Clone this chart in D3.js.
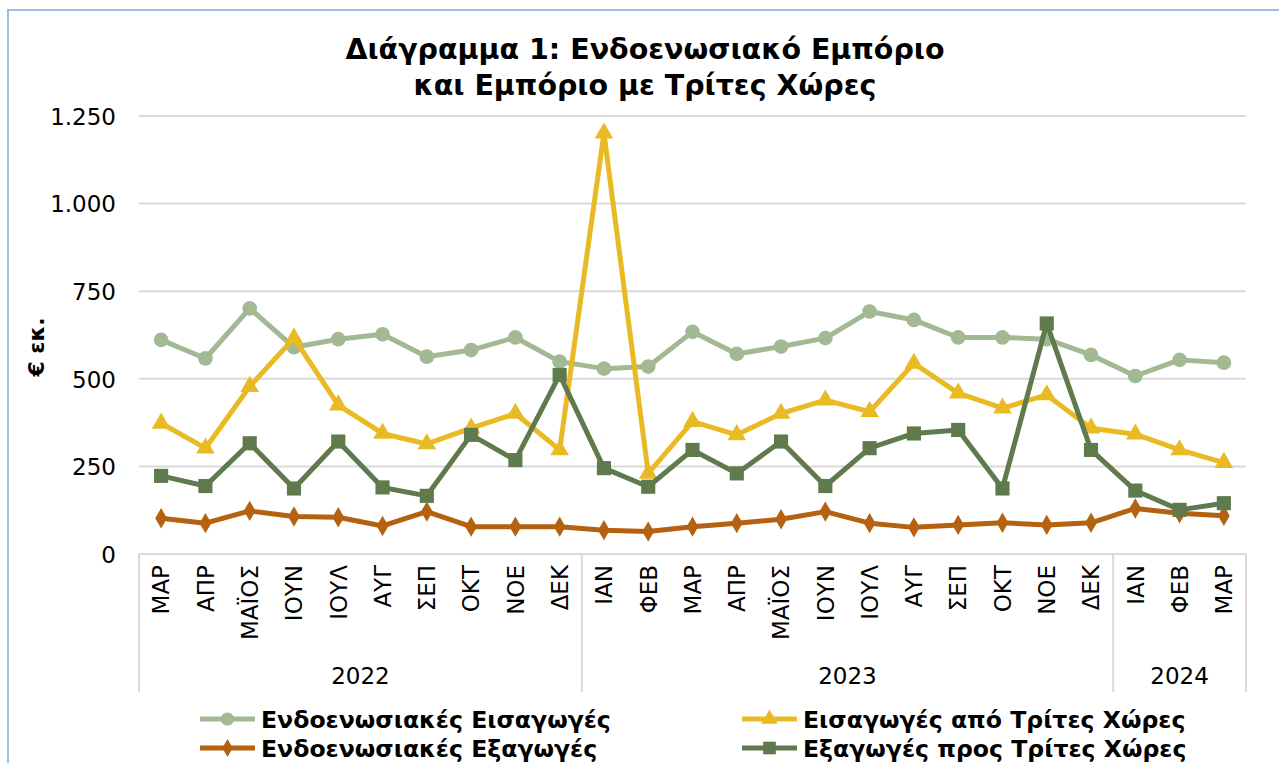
<!DOCTYPE html>
<html>
<head>
<meta charset="utf-8">
<script src="https://cdn.jsdelivr.net/npm/d3@7"></script>
<style>
  html, body { margin: 0; padding: 0; background: #fff; }
  svg { display: block; }
  text { font-family: "DejaVu Sans", Verdana, sans-serif; fill: #000; }
</style>
</head>
<body>
<svg id="chart" width="1279" height="763"></svg>
<script>
// ---- data ----
const months = ["ΜΑΡ","ΑΠΡ","ΜΑΪΟΣ","ΙΟΥΝ","ΙΟΥΛ","ΑΥΓ","ΣΕΠ","ΟΚΤ","ΝΟΕ","ΔΕΚ",
                "ΙΑΝ","ΦΕΒ","ΜΑΡ","ΑΠΡ","ΜΑΪΟΣ","ΙΟΥΝ","ΙΟΥΛ","ΑΥΓ","ΣΕΠ","ΟΚΤ","ΝΟΕ","ΔΕΚ",
                "ΙΑΝ","ΦΕΒ","ΜΑΡ"];
const yearLabels = ["2022", "2023", "2024"];
const monthsPerYear = [10, 12, 3];
const intraImports = [611,558,701,590,613,627,563,582,618,549,529,535,634,571,592,616,692,668,618,618,613,568,508,554,546];
const extraImports = [373,302,478,616,425,344,314,359,401,297,1201,230,378,340,401,439,406,544,459,416,454,359,342,297,261];
const intraExports = [102,88,123,107,105,80,121,78,78,78,68,64,78,88,99,121,88,76,83,89,83,89,130,116,109];
const extraExports = [223,194,316,187,321,190,166,340,268,511,245,192,297,230,321,194,302,344,354,187,658,297,181,126,145];
const yTicks = [0, 250, 500, 750, 1000, 1250];
const seriesNames = ["Ενδοενωσιακές Εισαγωγές", "Εισαγωγές από Τρίτες Χώρες",
                     "Ενδοενωσιακές Εξαγωγές", "Εξαγωγές προς Τρίτες Χώρες"];
const titleLines = ["Διάγραμμα 1: Ενδοενωσιακό Εμπόριο", "και Εμπόριο με Τρίτες Χώρες"];
const yTitle = "€ εκ.";

// ---- styles ----
const series = [
  { name: seriesNames[0], values: intraImports, color: "#A2B993", symbol: d3.symbolCircle, size: 170 },
  { name: seriesNames[1], values: extraImports, color: "#E9BA23", symbol: d3.symbolTriangle, size: 150 },
  { name: seriesNames[2], values: intraExports, color: "#B4620F", symbol: d3.symbolDiamond, size: 120 },
  { name: seriesNames[3], values: extraExports, color: "#5F7A4D", symbol: d3.symbolSquare, size: 200 }
];

const svg = d3.select("#chart");
const pLeft = 139, pRight = 1246, pTop = 116, pBottom = 554;

// border
svg.append("path")
  .attr("d", `M8,763 L8,10 L1279,10`)
  .attr("fill", "none").attr("stroke", "#9DBFE6").attr("stroke-width", 2);

const x = d3.scaleBand().domain(d3.range(months.length)).range([pLeft, pRight]).paddingInner(0).paddingOuter(0);
const y = d3.scaleLinear().domain([0, 1250]).range([pBottom, pTop]);

const loc = d3.formatLocale({ decimal: ",", thousands: ".", grouping: [3], currency: ["€", ""] });
const fmt = loc.format(",d");

// gridlines
svg.append("g").selectAll("line").data(yTicks).join("line")
  .attr("x1", pLeft).attr("x2", pRight)
  .attr("y1", d => y(d)).attr("y2", d => y(d))
  .attr("stroke", "#D9D9D9").attr("stroke-width", 2);

// y axis labels
const yAxis = svg.append("g").attr("transform", `translate(${pLeft},0)`)
  .call(d3.axisLeft(y).tickValues(yTicks).tickFormat(fmt).tickSize(0).tickPadding(23));
yAxis.select(".domain").remove();
yAxis.selectAll("text").style("font-size", "23px").style("font-family", "DejaVu Sans, Verdana, sans-serif").attr("fill", "#000").attr("dy", "0.36em");

// category axis separators
const groupBounds = [0];
monthsPerYear.reduce((acc, n) => { groupBounds.push(acc + n); return acc + n; }, 0);
svg.append("g").selectAll("line").data(groupBounds).join("line")
  .attr("x1", d => d < months.length ? x(d) : pRight)
  .attr("x2", d => d < months.length ? x(d) : pRight)
  .attr("y1", pBottom).attr("y2", 692)
  .attr("stroke", "#D9D9D9").attr("stroke-width", 2);

// month labels
const xAxis = svg.append("g").attr("transform", `translate(0,${pBottom})`)
  .call(d3.axisBottom(x).tickFormat(i => months[i]).tickSize(0));
xAxis.select(".domain").remove();
xAxis.selectAll("text")
  .style("font-size", "23px").style("font-family", "DejaVu Sans, Verdana, sans-serif").attr("fill", "#000")
  .attr("transform", "rotate(-90)")
  .attr("text-anchor", "end")
  .attr("x", -11).attr("y", 0).attr("dy", "0.36em");

// year labels
svg.append("g").selectAll("text").data(yearLabels).join("text")
  .attr("x", (d, i) => {
    const s = groupBounds[i], e = groupBounds[i + 1];
    const x0 = x(s), x1 = e < months.length ? x(e) : pRight;
    return (x0 + x1) / 2;
  })
  .attr("y", 684).attr("text-anchor", "middle")
  .style("font-size", "23px").text(d => d);

// lines & markers
const line = d3.line().x((d, i) => x(i) + x.bandwidth() / 2).y(d => y(d));
series.forEach(s => {
  const g = svg.append("g");
  g.append("path").datum(s.values)
    .attr("d", line).attr("fill", "none")
    .attr("stroke", s.color).attr("stroke-width", 5).attr("stroke-linejoin", "round");
  g.selectAll("path.m").data(s.values).join("path").attr("class", "m")
    .attr("d", d3.symbol().type(s.symbol).size(s.size))
    .attr("transform", (d, i) => `translate(${x(i) + x.bandwidth() / 2},${y(d)})`)
    .attr("fill", s.color);
});

// title
svg.append("g").selectAll("text").data(titleLines).join("text")
  .attr("x", 645).attr("y", (d, i) => 59 + i * 36)
  .attr("text-anchor", "middle")
  .style("font-size", "28.5px").style("font-weight", "bold").text(d => d);

// y title
svg.append("text")
  .attr("transform", "translate(44,347) rotate(-90)")
  .attr("text-anchor", "middle")
  .style("font-size", "22px").style("font-weight", "bold").text(yTitle);

// legend
const legendPos = [[200, 719], [742, 719], [200, 748], [742, 748]];
series.forEach((s, i) => {
  const [lx, ly] = legendPos[i];
  const g = svg.append("g").attr("transform", `translate(${lx},${ly})`);
  g.append("line").attr("x1", 0).attr("x2", 55).attr("y1", 0).attr("y2", 0)
    .attr("stroke", s.color).attr("stroke-width", 5);
  g.append("path").attr("d", d3.symbol().type(s.symbol).size(s.size * 0.8))
    .attr("transform", "translate(27.5,0)").attr("fill", s.color);
  g.append("text").attr("x", 61).attr("y", 0).attr("dy", "0.36em")
    .style("font-size", "23.6px").style("font-weight", "bold").text(s.name);
});
</script>
</body>
</html>
